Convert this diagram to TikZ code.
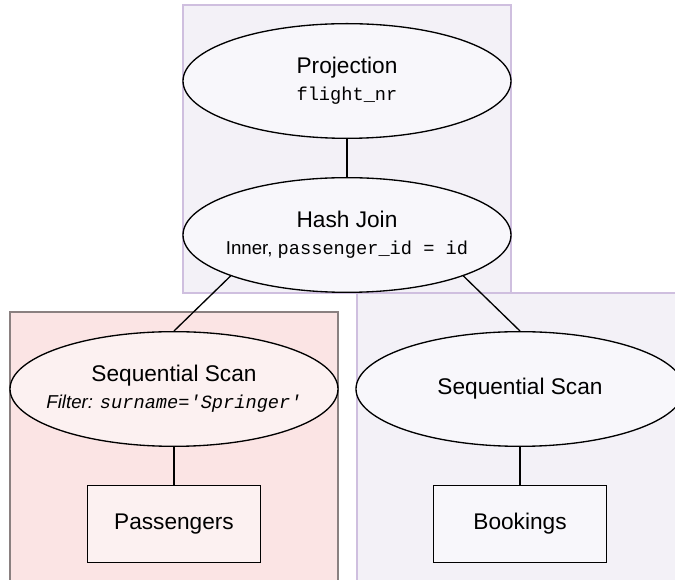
\documentclass[tikz,border=0pt]{standalone}
\usepackage{fontspec}
\setmainfont{Liberation Sans}
\setsansfont{Liberation Sans}
\setmonofont{Liberation Mono}
\usetikzlibrary{shapes.geometric}

\definecolor{regionfill}{HTML}{F3F1F7}
\definecolor{regionline}{HTML}{CFBFDF}
\definecolor{filterfill}{HTML}{FBE4E4}
\definecolor{filterline}{HTML}{8A8080}
\definecolor{opfill}{HTML}{F8F7FB}
\definecolor{filteropfill}{HTML}{FCF1F1}

\tikzset{
  region/.style={fill=regionfill, draw=regionline, line width=1.1pt},
  hotregion/.style={fill=filterfill, draw=filterline, line width=1.1pt},
  % fixed-size operator ellipse; its text is placed as a centred label
  opnode/.style={ellipse, draw=black, line width=1pt, fill=opfill,
    minimum width=246pt, minimum height=86pt, inner sep=0pt,
    label={[optext]center:#1}},
  optext/.style={align=center, inner sep=0pt,
    font=\fontsize{17}{20}\selectfont},
  relnode/.style={rectangle, draw=black, line width=1pt, fill=opfill,
    minimum width=130pt, minimum height=58pt, inner sep=0pt,
    font=\fontsize{17}{20}\selectfont},
  edge/.style={draw=black, line width=1pt},
}
\newcommand{\opdetail}[1]{{\fontsize{14}{20}\selectfont #1}}

\begin{document}
\begin{tikzpicture}[x=0.75pt, y=-0.75pt]
  \useasboundingbox (0,0) rectangle (675,580);
  \clip (0,0) rectangle (675,580);

  % background regions
  \draw[region] (357,293) rectangle (690,600);
  \draw[hotregion] (10,312) rectangle (338,600);
  \draw[region] (183,5) rectangle (511,293);

  % operators
  \node[opnode={Projection\\\opdetail{\ttfamily flight\_nr}}] (proj) at (347,81) {};
  \node[opnode={Hash Join\\\opdetail{Inner, \ttfamily passenger\_id = id}}] (hj) at (347,235) {};
  \node[opnode={Sequential Scan\\\opdetail{\itshape Filter: \ttfamily surname='Springer'}},
        fill=filteropfill] (ssl) at (174,389) {};
  \node[opnode={Sequential Scan}] (ssr) at (520,389) {};

  % relations
  \node[relnode, fill=filteropfill] (pass) at (174,524) {Passengers};
  \node[relnode] (book) at (520,524) {Bookings};

  % connectors
  \draw[edge] (proj) -- (hj);
  \draw[edge] (hj.south west) -- (ssl.north);
  \draw[edge] (hj.south east) -- (ssr.north);
  \draw[edge] (ssl) -- (pass);
  \draw[edge] (ssr) -- (book);
\end{tikzpicture}
\end{document}
